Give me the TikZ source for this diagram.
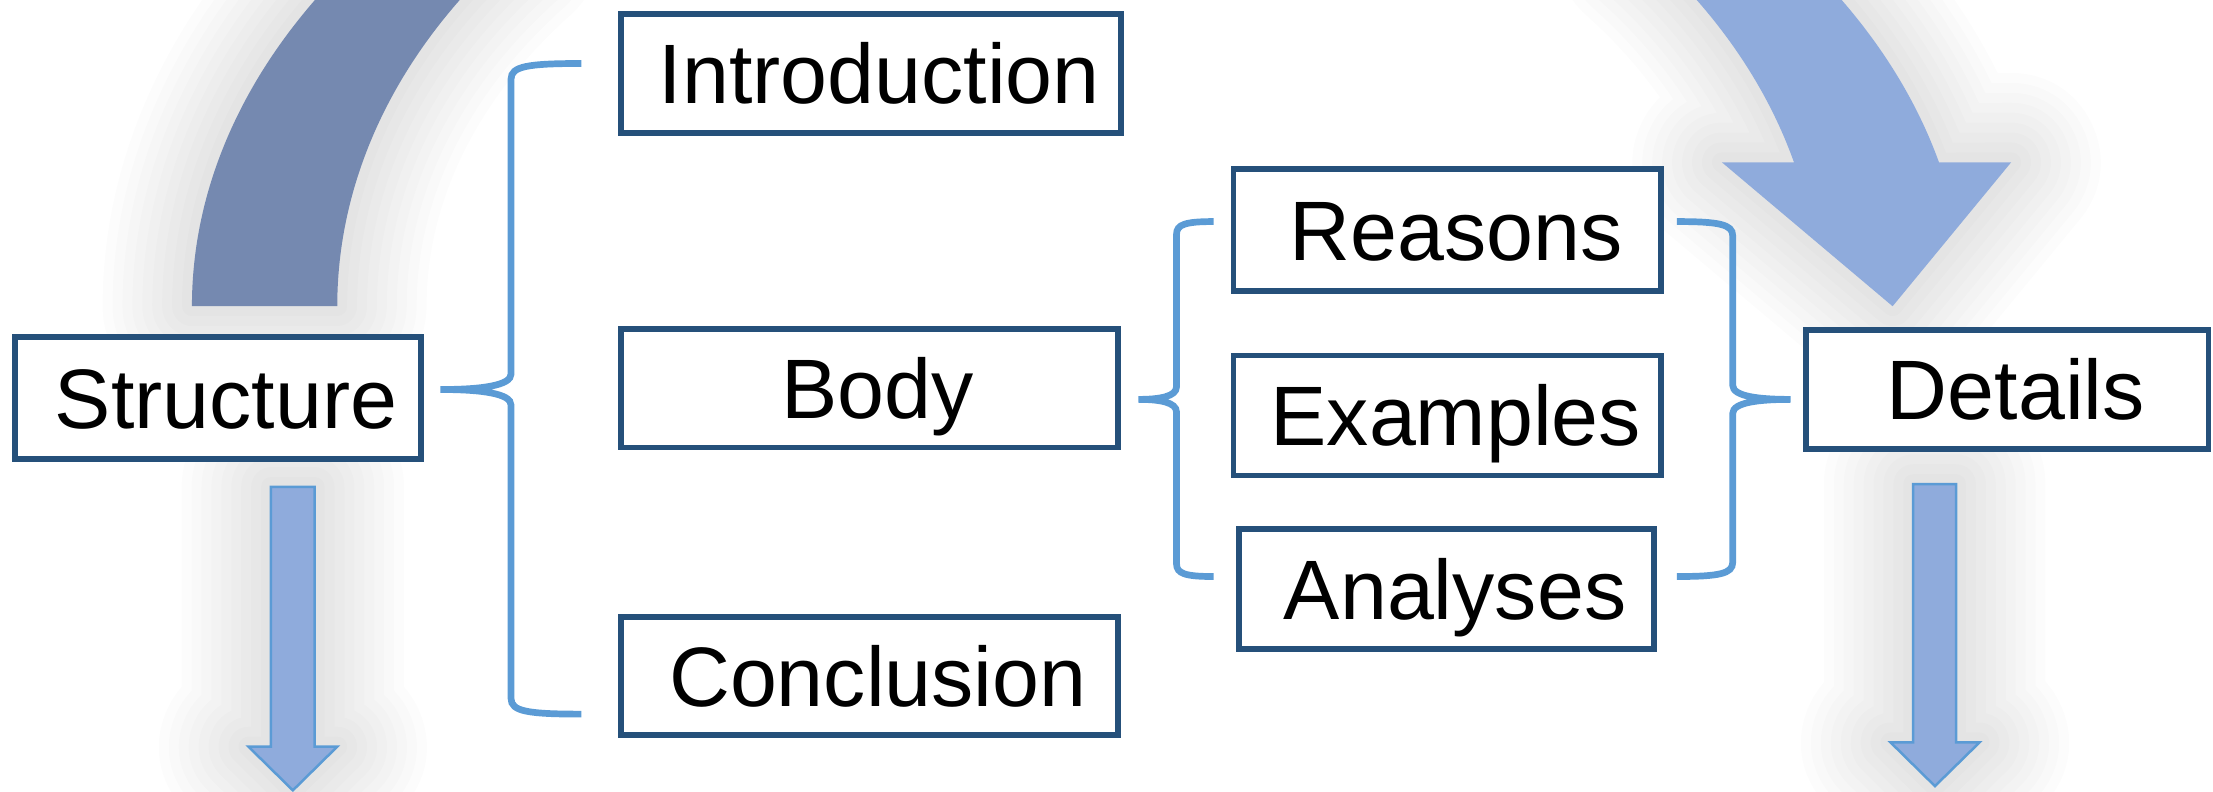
\documentclass[tikz,border=0pt]{standalone}
\usepackage{fontspec}
\setmainfont{Liberation Sans}
\usepackage{tikz}
\usetikzlibrary{calc,positioning}

\definecolor{boxline}{HTML}{25507A}
\definecolor{braceblue}{HTML}{5B9BD5}
\definecolor{arcdark}{HTML}{7589B0}
\definecolor{arclight}{HTML}{8FABDC}

% the big curved band and the two down arrows
\def\leftarc{(136,344) arc[start angle=180, end angle=140, x radius=628, y radius=427] -- (361.8,597.3) arc[start angle=140, end angle=180, x radius=525, y radius=394] -- cycle}
\def\rightarc{(1220,446) -- (1271.1,446) arc[start angle=15, end angle=40, x radius=525, y radius=394] -- (1245.1,618.5) arc[start angle=40, end angle=13.8, x radius=628, y radius=427] -- (1425,446) -- (1341,344) -- cycle}
\def\downL{(192,216) -- (223,216) -- (223,32) -- (239,32) -- (207.5,1) -- (176,32) -- (192,32) -- cycle}
\def\downR{(1355.6,218) -- (1386,218) -- (1386,35) -- (1402.6,35) -- (1371,4) -- (1339.5,35) -- (1355.6,35) -- cycle}

\begin{document}
\begin{tikzpicture}[x=0.01cm, y=0.01cm,
	box/.style={draw=boxline, line width=1.15pt, fill=white, inner sep=0pt, text height=12.2pt, text depth=0pt, font=\fontsize{17}{20}\selectfont, execute at begin node=\hspace{3.4pt}},
	brace/.style={draw=braceblue, line width=1.35pt}]
		\useasboundingbox (0,0) rectangle (1568,561);
		\clip (0,0) rectangle (1568,561);
		% soft shadow
		\foreach \w in {4,8,...,36} {
			\draw[line width=\w pt, draw opacity=0.013, line join=round] \leftarc \rightarc \downL \downR;
		}
		\fill[arcdark] \leftarc;
		\fill[arclight] \rightarc;
		\filldraw[fill=arclight, draw=braceblue, line width=0.5pt] \downL \downR;

		\node[box, minimum width=2.875cm, minimum height=0.86cm] (structure) at (154.25,279) {Structure};
		\node[box, minimum width=3.54cm, minimum height=0.84cm] (intro) at (617,509) {Introduction};
		\node[box, minimum width=3.52cm, minimum height=0.84cm] (body) at (616,286) {Body};
		\node[box, minimum width=3.52cm, minimum height=0.84cm] (concl) at (616,82) {Conclusion};
		\node[box, minimum width=3.03cm, minimum height=0.86cm] (reasons) at (1025.5,398) {Reasons};
		\node[box, minimum width=3.03cm, minimum height=0.85cm] (examples) at (1025.5,266.5) {Examples};
		\node[box, minimum width=2.94cm, minimum height=0.85cm] (analyses) at (1025,143.5) {Analyses};
		\node[box, minimum width=2.85cm, minimum height=0.84cm] (details) at (1422.3,285) {Details};

		\coordinate (ltip) at ($(structure.east)+(12,6)$);
		\coordinate (ltop) at ($(intro.west)+(-26,7)$);
		\coordinate (lbot) at ($(concl.west)+(-26,-27)$);
		\coordinate (mtip) at ($(body.east)+(12.5,-8)$);
		\coordinate (mtop) at ($(reasons.west)+(-12,6)$);
		\coordinate (mbot) at ($(analyses.west)+(-16,9)$);
		\coordinate (rtip) at ($(details.west)+(-9,-7)$);
		\coordinate (rtop) at ($(reasons.east)+(9,6)$);
		\coordinate (rbot) at ($(analyses.east)+(14,9)$);

		\draw[brace] (ltop) .. controls +(-38,0) and +(0,9) .. ($(ltip |- ltop)+(50,-11)$) -- ($(ltip)+(50,11)$)
			.. controls +(0,-8) and +(30,0) .. (ltip) .. controls +(30,0) and +(0,8) .. ($(ltip)+(50,-11)$)
			-- ($(ltip |- lbot)+(50,11)$) .. controls +(0,-9) and +(-38,0) .. (lbot);
		\draw[brace] (mtop) .. controls +(-20,0) and +(0,7) .. ($(mtip |- mtop)+(27,-9)$) -- ($(mtip)+(27,9)$)
			.. controls +(0,-7) and +(15,0) .. (mtip) .. controls +(15,0) and +(0,7) .. ($(mtip)+(27,-9)$)
			-- ($(mtip |- mbot)+(27,9)$) .. controls +(0,-7) and +(-20,0) .. (mbot);
		\draw[brace] (rtop) .. controls +(30,0) and +(0,8) .. ($(rtip |- rtop)+(-41,-10)$) -- ($(rtip)+(-41,10)$)
			.. controls +(0,-8) and +(-22,0) .. (rtip) .. controls +(-22,0) and +(0,8) .. ($(rtip)+(-41,-10)$)
			-- ($(rtip |- rbot)+(-41,10)$) .. controls +(0,-8) and +(30,0) .. (rbot);
	\end{tikzpicture}
\end{document}
